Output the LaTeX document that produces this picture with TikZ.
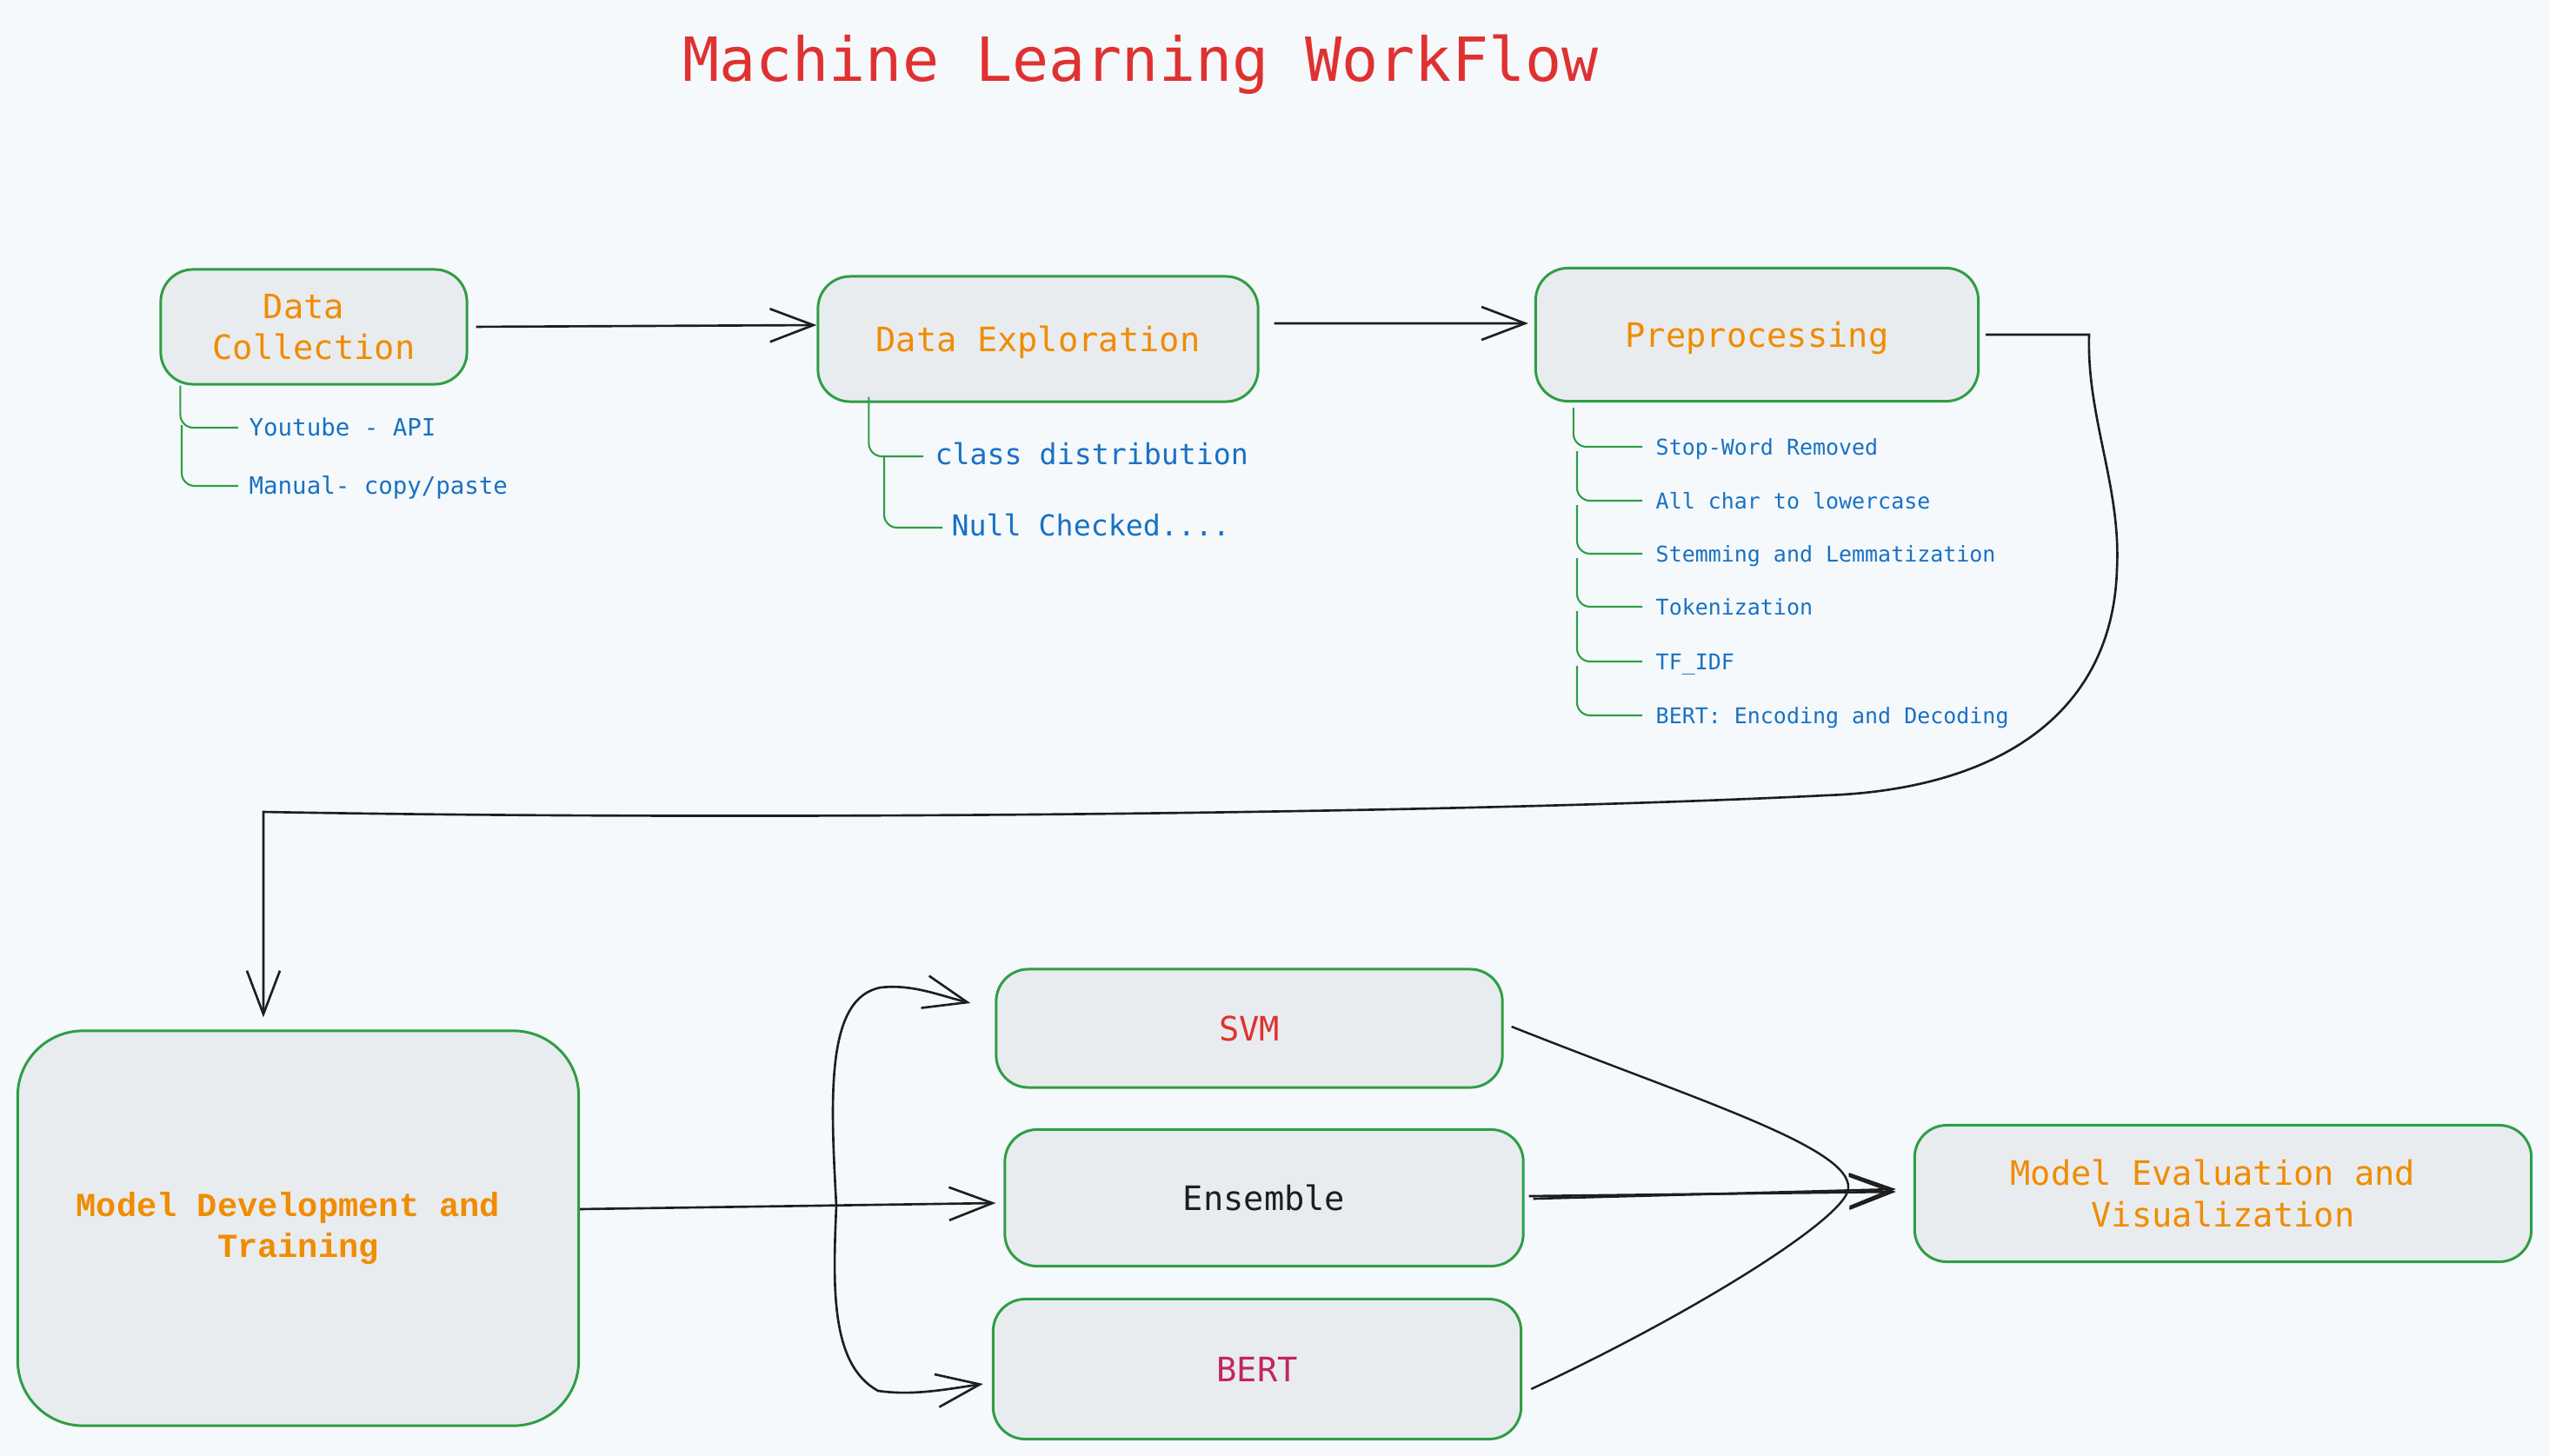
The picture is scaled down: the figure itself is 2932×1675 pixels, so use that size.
\documentclass[tikz,border=0pt]{standalone}
\usepackage{fontspec}
\setmonofont{DejaVu Sans Mono}
\newfontfamily\courierfont{Liberation Mono}
\usetikzlibrary{arrows.meta,positioning}

\definecolor{bgpaper}{HTML}{F5F9FC}
\definecolor{stagefill}{HTML}{E9ECEF}
\definecolor{stagegreen}{HTML}{2F9E44}
\definecolor{stageorange}{HTML}{F08C00}
\definecolor{notesblue}{HTML}{1971C2}
\definecolor{titlered}{HTML}{E03131}
\definecolor{bertpink}{HTML}{C2255C}
\definecolor{inkblack}{HTML}{1E1E1E}

\begin{document}
\begin{tikzpicture}[x=0.01cm,y=-0.01cm,
stage/.style={
rectangle,
rounded corners=0.37cm,
line width=0.85pt,
draw=stagegreen,
fill=stagefill,
align=center,
text=stageorange,
font=\ttfamily\fontsize{11}{13.4}\selectfont
},
oneline/.style={
text height=0.85em,
text depth=0pt
},
heading/.style={
anchor=base,
text=titlered,
font=\ttfamily\fontsize{19.9}{24}\selectfont
},
note/.style={
anchor=west,
inner sep=0pt,
text height=0.75em,
text depth=0.2em,
text=notesblue
},
arr/.style={
draw=inkblack,
line width=0.75pt,
-{Straight Barb[length=0.5cm,width=0.38cm]}
},
link/.style={
draw=inkblack,
line width=0.7pt
},
brace/.style={
draw=stagegreen,
line width=0.6pt,
rounded corners=0.15cm
}]

\fill[bgpaper] (0,0) rectangle (2932,1675);
\useasboundingbox (0,0) rectangle (2932,1675);

\node [heading] (head) at (1312,93) {Machine Learning WorkFlow};

% top row
\node [stage, minimum width=3.52cm, minimum height=1.32cm] (dc) at (361,376) {Data\hphantom{x}\\Collection};
\node [stage, oneline, minimum width=5.06cm, minimum height=1.44cm] (de) at (1194,390) {Data Exploration};
\node [stage, oneline, minimum width=5.09cm, minimum height=1.53cm] (pre) at (2021,385) {Preprocessing};

% notes under the top row
\node [note, font=\ttfamily\fontsize{7.8}{9}\selectfont] (yt) at (286,492) {Youtube - API};
\node [note, font=\ttfamily\fontsize{7.8}{9}\selectfont] (man) at (286,559) {Manual- copy/paste};

\node [note, font=\ttfamily\fontsize{9.45}{11}\selectfont] (cd) at (1075,525) {class distribution};
\node [note, font=\ttfamily\fontsize{9.45}{11}\selectfont] (nc) at (1094,607) {Null Checked....};

\node [note, font=\ttfamily\fontsize{7.1}{8.5}\selectfont] (p1) at (1904,514) {Stop-Word Removed};
\node [note, font=\ttfamily\fontsize{7.1}{8.5}\selectfont] (p2) at (1904,576) {All char to lowercase};
\node [note, font=\ttfamily\fontsize{7.1}{8.5}\selectfont] (p3) at (1904,637) {Stemming and Lemmatization};
\node [note, font=\ttfamily\fontsize{7.1}{8.5}\selectfont] (p4) at (1904,698) {Tokenization};
\node [note, font=\ttfamily\fontsize{7.1}{8.5}\selectfont] (p5) at (1904,761) {TF\_IDF};
\node [note, font=\ttfamily\fontsize{7.1}{8.5}\selectfont] (p6) at (1904,823) {BERT: Encoding and Decoding};

% bottom row
\node [stage, rounded corners=0.75cm, minimum width=6.45cm, minimum height=4.54cm,
       font=\courierfont\bfseries\fontsize{11}{13.4}\selectfont] (md) at (343,1413) {Model Development and\hphantom{x}\\Training};
\node [stage, oneline, text=titlered, minimum width=5.82cm, minimum height=1.36cm] (svm) at (1437,1183) {SVM};
\node [stage, oneline, text=inkblack, minimum width=5.96cm, minimum height=1.57cm] (ens) at (1454,1378) {Ensemble};
\node [stage, oneline, text=bertpink, minimum width=6.07cm, minimum height=1.61cm] (bert) at (1446,1575) {BERT};
\node [stage, minimum width=7.09cm, minimum height=1.57cm] (eval) at (2557,1373) {Model Evaluation and\hphantom{x}\\Visualization};

\coordinate (bend) at (2403,385);
\coordinate (corner) at (303,934);
\coordinate (fork) at (962,1387);
\coordinate (meet) at (2126,1367);

% green brackets
\draw[brace] ([xshift=0.24cm]dc.south west) |- ([xshift=-0.12cm]yt.west);
\draw[brace] ([xshift=-0.77cm,yshift=0.03cm]yt.west) |- ([xshift=-0.12cm]man.west);
\draw[brace] ([xshift=0.60cm,yshift=0.07cm]de.south west) |- ([xshift=-0.13cm]cd.west);
\draw[brace] ([xshift=-0.58cm]cd.west) |- ([xshift=-0.10cm]nc.west);
\draw[brace] ([xshift=0.45cm,yshift=-0.06cm]pre.south west) |- ([xshift=-0.15cm]p1.west);
\foreach \a/\b in {p1/p2,p2/p3,p3/p4,p4/p5,p5/p6}
  \draw[brace] ([xshift=-0.90cm,yshift=-0.05cm]\a.west) |- ([xshift=-0.15cm]\b.west);

% flow arrows
\draw[arr, shorten <=0.09cm] (dc.east) -- ([yshift=0.16cm]de.west);
\draw[arr] ([xshift=0.17cm,yshift=0.18cm]de.east) -- ([xshift=-0.07cm,yshift=0.13cm]pre.west);
\draw[arr, shorten <=0.07cm, shorten >=0.14cm] (pre.east) -- (bend)
  .. controls (2400,480) and (2440,560) .. (2435,655)
  .. controls (2430,820) and (2300,908) .. (2100,915)
  .. controls (1700,935) and (900,945) .. (corner)
  -- ([xshift=-0.4cm]md.north);

\draw[arr] ([yshift=0.22cm]md.east) -- ([xshift=-0.09cm,yshift=-0.06cm]ens.west);
\draw[arr] (fork) .. controls (955,1260) and (950,1148) .. (1013,1136)
  .. controls (1050,1132) and (1080,1145) .. ([xshift=-0.28cm,yshift=0.29cm]svm.west);
\draw[arr] (fork) .. controls (958,1480) and (955,1570) .. (1010,1600)
  .. controls (1050,1606) and (1090,1598) .. ([xshift=-0.10cm,yshift=-0.17cm]bert.west);

\draw[link] ([xshift=0.09cm,yshift=0.02cm]svm.east) .. controls (1950,1265) and (2130,1320) .. (meet)
  .. controls (2125,1400) and (1950,1510) .. ([xshift=0.10cm,yshift=-0.23cm]bert.east);
\draw[arr] ([xshift=0.05cm,yshift=0.02cm]ens.east) -- ([xshift=-0.20cm,yshift=0.02cm]eval.west);
\draw[arr] ([xshift=0.10cm,yshift=-0.01cm]ens.east) -- ([xshift=-0.20cm,yshift=0.05cm]eval.west);

\end{tikzpicture}
\end{document}
